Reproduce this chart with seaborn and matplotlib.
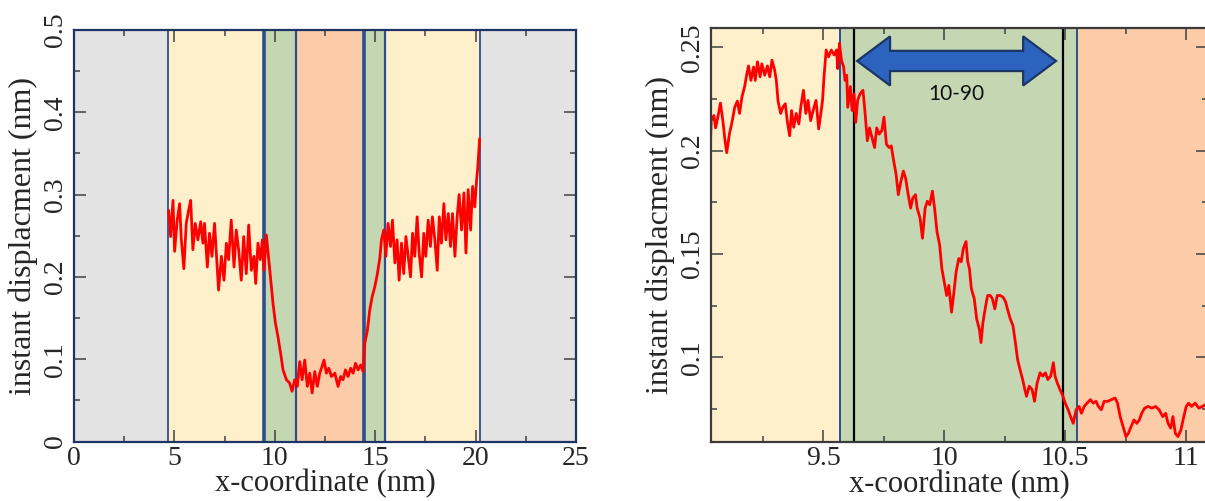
import numpy as np
import pandas as pd
import seaborn as sns
import matplotlib
matplotlib.use("Agg")
import matplotlib.pyplot as plt
from matplotlib.patches import Polygon
from matplotlib.ticker import MultipleLocator

# ---------------- data: full profile ----------------
full_x = [4.71, 4.81, 4.93, 5.01, 5.14, 5.26, 5.34, 5.47, 5.59, 5.71, 5.81, 5.92,
          6.04, 6.17, 6.31, 6.42, 6.50, 6.64, 6.75, 6.87, 7.00, 7.12, 7.20, 7.34,
          7.47, 7.59, 7.70, 7.83, 7.97, 8.08, 8.20, 8.33, 8.45, 8.58, 8.70, 8.83,
          8.96, 9.05, 9.16, 9.28, 9.38, 9.46, 9.58, 9.70, 9.80, 9.91, 10.03, 10.16,
          10.29, 10.41, 10.58, 10.74, 10.86, 10.99, 11.12, 11.24, 11.36, 11.49,
          11.62, 11.74, 11.86, 11.99, 12.12, 12.24, 12.35, 12.45, 12.57, 12.69,
          12.82, 12.99, 13.15, 13.28, 13.40, 13.52, 13.65, 13.78, 13.90, 14.02,
          14.15, 14.28, 14.40, 14.48, 14.61, 14.73, 14.85, 14.98, 15.11, 15.23,
          15.31, 15.43, 15.53, 15.64, 15.76, 15.86, 15.98, 16.09, 16.19, 16.31,
          16.42, 16.53, 16.64, 16.76, 16.86, 16.97, 17.09, 17.19, 17.31, 17.42,
          17.52, 17.64, 17.75, 17.85, 17.97, 18.09, 18.19, 18.30, 18.42, 18.52,
          18.64, 18.75, 18.85, 18.97, 19.08, 19.18, 19.30, 19.42, 19.52, 19.63,
          19.75, 19.85, 19.96, 20.05, 20.10, 20.15, 20.20]
full_y = [0.281, 0.249, 0.293, 0.231, 0.269, 0.289, 0.247, 0.210, 0.265, 0.281,
          0.293, 0.233, 0.265, 0.245, 0.267, 0.241, 0.265, 0.212, 0.253, 0.225,
          0.265, 0.217, 0.184, 0.225, 0.196, 0.241, 0.221, 0.269, 0.212, 0.257,
          0.233, 0.196, 0.249, 0.204, 0.263, 0.208, 0.225, 0.192, 0.241, 0.221,
          0.245, 0.208, 0.251, 0.221, 0.196, 0.168, 0.144, 0.127, 0.107, 0.087,
          0.075, 0.071, 0.061, 0.075, 0.067, 0.097, 0.075, 0.099, 0.067, 0.083,
          0.059, 0.085, 0.067, 0.083, 0.091, 0.099, 0.083, 0.089, 0.079, 0.083,
          0.067, 0.079, 0.075, 0.087, 0.079, 0.089, 0.083, 0.095, 0.087, 0.093,
          0.085, 0.119, 0.135, 0.160, 0.176, 0.188, 0.204, 0.223, 0.245, 0.257,
          0.225, 0.265, 0.237, 0.269, 0.217, 0.245, 0.196, 0.241, 0.204, 0.249,
          0.225, 0.200, 0.253, 0.225, 0.273, 0.229, 0.200, 0.253, 0.225, 0.269,
          0.237, 0.273, 0.245, 0.208, 0.273, 0.241, 0.289, 0.245, 0.277, 0.237,
          0.277, 0.225, 0.273, 0.300, 0.257, 0.302, 0.229, 0.306, 0.257, 0.310,
          0.285, 0.318, 0.330, 0.350, 0.368]

# ---------------- data: zoomed profile ----------------
zoom_x = [9.033, 9.037, 9.048, 9.055, 9.064, 9.075, 9.085, 9.094, 9.101, 9.112,
          9.124, 9.134, 9.145, 9.154, 9.164, 9.175, 9.184, 9.191, 9.201, 9.212,
          9.219, 9.228, 9.239, 9.246, 9.258, 9.269, 9.279, 9.288, 9.299, 9.306,
          9.313, 9.324, 9.333, 9.343, 9.351, 9.361, 9.369, 9.378, 9.388, 9.399,
          9.407, 9.418, 9.428, 9.437, 9.448, 9.458, 9.470, 9.481, 9.490, 9.497,
          9.503, 9.512, 9.522, 9.533, 9.545, 9.555, 9.560, 9.567, 9.575, 9.584,
          9.590, 9.597, 9.601, 9.612, 9.619, 9.627, 9.634, 9.642, 9.652, 9.664,
          9.672, 9.682, 9.691, 9.701, 9.712, 9.721, 9.731, 9.742, 9.751, 9.761,
          9.772, 9.781, 9.791, 9.801, 9.810, 9.821, 9.831, 9.840, 9.851, 9.861,
          9.870, 9.881, 9.888, 9.900, 9.910, 9.921, 9.930, 9.940, 9.951, 9.960,
          9.970, 9.981, 9.990, 10.000, 10.010, 10.019, 10.030, 10.040, 10.049,
          10.060, 10.070, 10.079, 10.090, 10.097, 10.104, 10.112, 10.124, 10.134,
          10.145, 10.152, 10.160, 10.169, 10.179, 10.190, 10.199, 10.209, 10.219,
          10.231, 10.243, 10.254, 10.261, 10.273, 10.284, 10.294, 10.303, 10.313,
          10.324, 10.333, 10.340, 10.351, 10.363, 10.373, 10.384, 10.396, 10.407,
          10.418, 10.428, 10.440, 10.451, 10.458, 10.467, 10.478, 10.488, 10.500,
          10.512, 10.522, 10.533, 10.545, 10.557, 10.567, 10.578, 10.590, 10.604,
          10.616, 10.627, 10.637, 10.649, 10.661, 10.676, 10.691, 10.706, 10.716,
          10.727, 10.739, 10.751, 10.761, 10.772, 10.784, 10.796, 10.806, 10.816,
          10.828, 10.843, 10.858, 10.873, 10.888, 10.903, 10.915, 10.925, 10.936,
          10.945, 10.955, 10.966, 10.978, 10.990, 11.000, 11.010, 11.022, 11.037,
          11.052, 11.067, 11.079]
zoom_y = [0.2015, 0.2145, 0.2170, 0.2110, 0.2160, 0.2230, 0.2145, 0.2048, 0.1990,
          0.2080, 0.2145, 0.2210, 0.2240, 0.2180, 0.2260, 0.2310, 0.2370, 0.2410,
          0.2340, 0.2405, 0.2340, 0.2430, 0.2357, 0.2420, 0.2365, 0.2410, 0.2357,
          0.2438, 0.2390, 0.2340, 0.2240, 0.2180, 0.2210, 0.2227, 0.2145, 0.2072,
          0.2194, 0.2113, 0.2180, 0.2129, 0.2210, 0.2292, 0.2180, 0.2243, 0.2145,
          0.2194, 0.2243, 0.2105, 0.2180, 0.2243, 0.2357, 0.2487, 0.2454, 0.2487,
          0.2463, 0.2487, 0.2397, 0.2520, 0.2438, 0.2406, 0.2340, 0.2365, 0.2210,
          0.2310, 0.2194, 0.2275, 0.2137, 0.2243, 0.2275, 0.2292, 0.2194, 0.2048,
          0.2110, 0.2064, 0.2015, 0.2110, 0.2080, 0.2097, 0.2162, 0.2031, 0.2015,
          0.2023, 0.1950, 0.1885, 0.1787, 0.1852, 0.1901, 0.1869, 0.1787, 0.1722,
          0.1771, 0.1787, 0.1722, 0.1673, 0.1576, 0.1722, 0.1755, 0.1738, 0.1804,
          0.1722, 0.1608, 0.1543, 0.1429, 0.1364, 0.1299, 0.1348, 0.1218, 0.1315,
          0.1413, 0.1478, 0.1462, 0.1527, 0.1560, 0.1462, 0.1429, 0.1332, 0.1283,
          0.1185, 0.1136, 0.1071, 0.1169, 0.1234, 0.1299, 0.1299, 0.1283, 0.1234,
          0.1299, 0.1299, 0.1291, 0.1267, 0.1234, 0.1185, 0.1153, 0.1071, 0.0990,
          0.0941, 0.0892, 0.0844, 0.0811, 0.0860, 0.0844, 0.0787, 0.0876, 0.0925,
          0.0909, 0.0925, 0.0892, 0.0909, 0.0974, 0.0909, 0.0876, 0.0844, 0.0819,
          0.0778, 0.0746, 0.0713, 0.0680, 0.0746, 0.0762, 0.0729, 0.0762, 0.0778,
          0.0795, 0.0778, 0.0787, 0.0762, 0.0746, 0.0787, 0.0787, 0.0795, 0.0803,
          0.0778, 0.0713, 0.0664, 0.0616, 0.0632, 0.0664, 0.0697, 0.0680, 0.0697,
          0.0729, 0.0754, 0.0762, 0.0754, 0.0762, 0.0746, 0.0713, 0.0729, 0.0680,
          0.0657, 0.0713, 0.0632, 0.0616, 0.0648, 0.0713, 0.0762, 0.0778, 0.0762,
          0.0778, 0.0754, 0.0762, 0.0770]

# region bands (boundaries in nm) and their fill colours
full_edges = [0.0, 4.68, 9.45, 11.04, 14.46, 15.51, 20.20, 25.0]
full_colors = ["#E3E3E3", "#FFF0CC", "#C4D7B2", "#FCCBA8", "#C4D7B2", "#FFF0CC", "#E3E3E3"]
full_edge_widths = [1.3, 2.6, 1.6, 2.6, 1.6, 1.3]

zoom_edges = [9.0, 9.569, 10.549, 11.2]
zoom_colors = ["#FFF0CC", "#C4D7B2", "#FCCBA8"]
rise_marks = [9.627, 10.490]        # 10 % / 90 % positions
rise_label = "10-90"

GRID_BLUE = "#2E4F8F"
RED = "#FF0000"

sns.set_theme(style="ticks")
plt.rcParams["font.family"] = ["Liberation Serif", "DejaVu Serif"]

fig = plt.figure(figsize=(12.05, 5.01), dpi=100)
ax1 = fig.add_axes([74 / 1205, 59.5 / 501, 502 / 1205, 411.5 / 501])
ax2 = fig.add_axes([711 / 1205, 59 / 501, 497 / 1205, 413.7 / 501])


def shade(ax, edges, colors):
    for lo, hi, c in zip(edges[:-1], edges[1:], colors):
        ax.axvspan(lo, hi, color=c, lw=0, zorder=0)


def style_axes(ax, spine_color):
    ax.tick_params(which="both", direction="in", top=True, right=True,
                   color="#404040", width=1.1, labelsize=20, pad=3)
    ax.tick_params(which="major", length=8.5)
    ax.tick_params(which="minor", length=4.5)
    ax.tick_params(axis="y", labelrotation=90, pad=4)
    for lab in ax.get_yticklabels():
        lab.set_va("center")
    for s in ax.spines.values():
        s.set_color(spine_color)
        s.set_linewidth(1.6)
        s.set_zorder(5)
    ax.set_xlabel("x-coordinate (nm)", fontsize=22, labelpad=-1)
    ax.set_ylabel("instant displacment (nm)", fontsize=23, labelpad=4)


# ---------------- left: full profile ----------------
shade(ax1, full_edges, full_colors)
for xb, w in zip(full_edges[1:-1], full_edge_widths):
    ax1.axvline(xb, color=GRID_BLUE, lw=w, zorder=1)
sns.lineplot(x=full_x, y=full_y, ax=ax1, color=RED, lw=2.0,
             estimator=None, sort=False, zorder=3)
ax1.set_xlim(0, 25)
ax1.set_ylim(0, 0.5)
ax1.xaxis.set_major_locator(MultipleLocator(5))
ax1.xaxis.set_minor_locator(MultipleLocator(2.5))
ax1.set_yticks(np.arange(0, 0.51, 0.1))
ax1.set_yticklabels(["0", "0.1", "0.2", "0.3", "0.4", "0.5"])
ax1.yaxis.set_minor_locator(MultipleLocator(0.05))
style_axes(ax1, "#1F3464")

# ---------------- right: zoom on the interface ----------------
shade(ax2, zoom_edges, zoom_colors)
for xb in zoom_edges[1:-1]:
    ax2.axvline(xb, color=GRID_BLUE, lw=1.4, zorder=1)
for xm in rise_marks:
    ax2.axvline(xm, color="black", lw=1.6, zorder=2)
sns.lineplot(x=zoom_x, y=zoom_y, ax=ax2, color=RED, lw=2.0,
             estimator=None, sort=False, zorder=3)
ax2.set_xlim(9.036, 11.09)
ax2.set_ylim(0.059, 0.2592)
ax2.set_xticks([9.5, 10, 10.5, 11])
ax2.set_xticklabels(["9.5", "10", "10.5", "11"])
ax2.xaxis.set_minor_locator(MultipleLocator(0.25))
ax2.set_yticks([0.1, 0.15, 0.2, 0.25])
ax2.set_yticklabels(["0.1", "0.15", "0.2", "0.25"])
ax2.yaxis.set_minor_locator(MultipleLocator(0.025))
style_axes(ax2, "#3A3A3A")

# double-headed block arrow spanning the 10-90 width
x0, x1 = 9.640, 10.462
yc = 0.2434
shaft_h, head_h, head_l = 0.0049, 0.0119, 0.136
arrow_pts = [
    (x0, yc),
    (x0 + head_l, yc + head_h), (x0 + head_l, yc + shaft_h),
    (x1 - head_l, yc + shaft_h), (x1 - head_l, yc + head_h),
    (x1, yc),
    (x1 - head_l, yc - head_h), (x1 - head_l, yc - shaft_h),
    (x0 + head_l, yc - shaft_h), (x0 + head_l, yc - head_h),
]
ax2.add_patch(Polygon(arrow_pts, closed=True, facecolor="#2B63BE",
                      edgecolor="#1C3565", lw=1.6, zorder=4))
ax2.text((x0 + x1) / 2, 0.2274, rise_label, ha="center", va="center",
         fontsize=15, family=["Lato", "DejaVu Sans"], color="#111111", zorder=4)

fig.savefig("out.png", dpi=100)
